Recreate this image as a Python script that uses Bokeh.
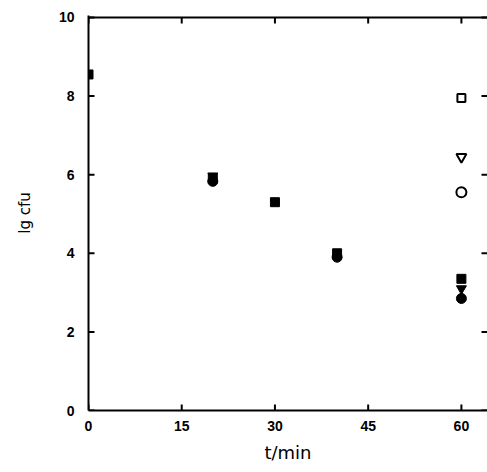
import math
from bokeh.plotting import figure
from bokeh.models import FixedTicker, Range1d, Span
from bokeh.embed import file_html
from bokeh.resources import INLINE

nan = float("nan")
# data
t_filled = [0, 20, 30, 40, 60]
sq_filled = [8.55, 5.9, 5.3, 4.0, 3.35]
tri_filled = [nan, 5.97, nan, nan, 3.1]
circ_filled = [nan, 5.83, nan, 3.9, 2.85]
t_open = [60]
sq_open = [7.95]
tri_open = [6.45]
circ_open = [5.55]
x_ticks = [0, 15, 30, 45, 60]
y_ticks = [0, 2, 4, 6, 8, 10]
X_MAX = 64.2
Y_MAX = 10
Y_PAD = 0.05

FONT = "Liberation Sans"

p = figure(width=487, height=472, output_backend="svg", toolbar_location=None,
           x_range=Range1d(0, X_MAX), y_range=Range1d(0, Y_MAX + Y_PAD),
           min_border_left=88, min_border_top=15, min_border_bottom=62, min_border_right=0,
           x_axis_label="t/min", y_axis_label="lg cfu")
p.outline_line_color = None
p.xgrid.visible = False
p.ygrid.visible = False
p.background_fill_color = "white"
p.border_fill_color = "white"

for ax in p.xaxis + p.yaxis:
    ax.major_tick_in = 0
    ax.major_tick_out = 0
    ax.minor_tick_line_color = None
    ax.axis_line_width = 2
    ax.axis_line_color = "black"
    ax.major_label_text_font = FONT
    ax.major_label_text_font_style = "bold"
    ax.major_label_text_font_size = "14px"
    ax.major_label_text_color = "black"
    ax.axis_label_text_font = "DejaVu Sans"
    ax.axis_label_text_font_style = "normal"
    ax.axis_label_text_color = "black"
p.xaxis.ticker = FixedTicker(ticks=x_ticks)
p.yaxis.ticker = FixedTicker(ticks=y_ticks)
p.xaxis.axis_label_text_font_size = "18px"
p.yaxis.axis_label_text_font_size = "15px"
p.xaxis.major_label_standoff = 10
p.yaxis.major_label_standoff = 14
p.xaxis.axis_label_standoff = 8
p.yaxis.axis_label_standoff = 22

# top frame line
p.add_layout(Span(location=Y_MAX, dimension="width", line_color="black", line_width=2))

# inward tick marks drawn as short screen-length rays from the frame edges
n_x = len(x_ticks)
n_y = len(y_ticks)
TICK = dict(length=6, length_units="screen", line_color="black", line_width=2)
p.ray(x_ticks, [0] * n_x, angle=math.pi / 2, **TICK)
p.ray(x_ticks, [Y_MAX] * n_x, angle=-math.pi / 2, **TICK)
p.ray([0] * n_y, y_ticks, angle=0, **TICK)
p.ray([X_MAX] * n_y, y_ticks, angle=math.pi, **TICK)

p.scatter(t_filled, circ_filled, marker="circle", size=10, color="black")
p.scatter(t_filled, tri_filled, marker="inverted_triangle", size=10, color="black")
p.scatter(t_filled, sq_filled, marker="square", size=9, color="black")
p.scatter(t_open, sq_open, marker="square", size=8, fill_color="white", line_color="black", line_width=2)
p.scatter(t_open, tri_open, marker="inverted_triangle", size=10, fill_color="white", line_color="black", line_width=2)
p.scatter(t_open, circ_open, marker="circle", size=10, fill_color="white", line_color="black", line_width=2)

open("out.html", "w").write(file_html(p, INLINE))
